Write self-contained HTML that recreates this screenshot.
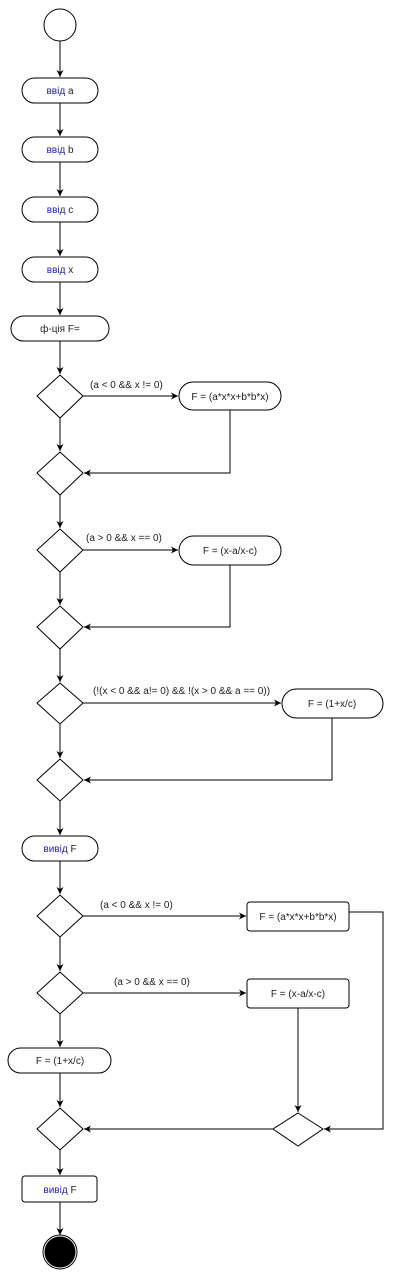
<!DOCTYPE html>
<html><head><meta charset="utf-8"><style>
html,body{margin:0;padding:0;background:#fff;}
svg{display:block;}
text{font-family:"Liberation Sans",sans-serif;font-size:10px;fill:#222;}
.b{fill:#2222aa;}
</style></head><body>
<svg width="401" height="1280" viewBox="0 0 401 1280" xmlns="http://www.w3.org/2000/svg">
<defs><marker id="a" markerWidth="8" markerHeight="8" refX="7" refY="4" orient="auto" markerUnits="userSpaceOnUse"><path d="M0,0.5 L7,4 L0,7.5 L2,4 Z" fill="#000"/></marker></defs>
<g stroke="#000" stroke-width="1" fill="none">
<circle cx="60" cy="25" r="16"/>
<line x1="60" y1="41" x2="60" y2="77" marker-end="url(#a)"/>
<rect x="22" y="78" width="76" height="25" rx="12.5"/>
<line x1="60" y1="103" x2="60" y2="136" marker-end="url(#a)"/>
<rect x="22" y="137" width="76" height="25" rx="12.5"/>
<line x1="60" y1="162" x2="60" y2="196" marker-end="url(#a)"/>
<rect x="22" y="197" width="76" height="25" rx="12.5"/>
<line x1="60" y1="222" x2="60" y2="256" marker-end="url(#a)"/>
<rect x="22" y="257" width="76" height="25" rx="12.5"/>
<line x1="60" y1="282" x2="60" y2="315" marker-end="url(#a)"/>
<rect x="11" y="316" width="98" height="25" rx="12.5"/>
<line x1="60" y1="341" x2="60" y2="374" marker-end="url(#a)"/>
<!-- block 1 -->
<path d="M60,375 L83,396 L60,418 L37,396 Z"/>
<line x1="83" y1="396" x2="178" y2="396" marker-end="url(#a)"/>
<rect x="179" y="382" width="102" height="28" rx="14"/>
<polyline points="230,410 230,473 84,473" marker-end="url(#a)"/>
<line x1="60" y1="418" x2="60" y2="451" marker-end="url(#a)"/>
<path d="M60,452 L83,473 L60,495 L37,473 Z"/>
<line x1="60" y1="495" x2="60" y2="528" marker-end="url(#a)"/>
<!-- block 2 -->
<path d="M60,529 L83,550 L60,572 L37,550 Z"/>
<line x1="83" y1="550" x2="178" y2="550" marker-end="url(#a)"/>
<rect x="179" y="536" width="102" height="29" rx="14.5"/>
<polyline points="230,565 230,627 84,627" marker-end="url(#a)"/>
<line x1="60" y1="572" x2="60" y2="605" marker-end="url(#a)"/>
<path d="M60,606 L83,627 L60,649 L37,627 Z"/>
<line x1="60" y1="649" x2="60" y2="682" marker-end="url(#a)"/>
<!-- block 3 -->
<path d="M60,683 L83,703 L60,724 L37,703 Z"/>
<line x1="83" y1="703" x2="281" y2="703" marker-end="url(#a)"/>
<rect x="282" y="689" width="101" height="29" rx="14.5"/>
<polyline points="332,718 332,780 84,780" marker-end="url(#a)"/>
<line x1="60" y1="724" x2="60" y2="758" marker-end="url(#a)"/>
<path d="M60,759 L83,780 L60,801 L37,780 Z"/>
<line x1="60" y1="801" x2="60" y2="835" marker-end="url(#a)"/>
<rect x="22" y="836" width="76" height="25" rx="12.5"/>
<line x1="60" y1="861" x2="60" y2="894" marker-end="url(#a)"/>
<!-- lower -->
<path d="M60,895 L83,916 L60,937 L37,916 Z"/>
<line x1="83" y1="916" x2="246" y2="916" marker-end="url(#a)"/>
<rect x="247" y="902" width="102" height="29" rx="3"/>
<polyline points="349,912 383,912 383,1129 324,1129" marker-end="url(#a)"/>
<line x1="60" y1="937" x2="60" y2="971" marker-end="url(#a)"/>
<path d="M60,972 L83,993 L60,1014 L37,993 Z"/>
<line x1="83" y1="993" x2="246" y2="993" marker-end="url(#a)"/>
<rect x="247" y="979" width="102" height="29" rx="3"/>
<line x1="298" y1="1008" x2="298" y2="1112" marker-end="url(#a)"/>
<path d="M298,1113 L323,1129 L298,1146 L273,1129 Z"/>
<line x1="273" y1="1129" x2="84" y2="1129" marker-end="url(#a)"/>
<line x1="60" y1="1014" x2="60" y2="1047" marker-end="url(#a)"/>
<rect x="8" y="1048" width="103" height="25" rx="12.5"/>
<line x1="60" y1="1073" x2="60" y2="1107" marker-end="url(#a)"/>
<path d="M60,1108 L83,1129 L60,1150 L37,1129 Z"/>
<line x1="60" y1="1150" x2="60" y2="1175" marker-end="url(#a)"/>
<rect x="22" y="1176" width="75" height="26" rx="3"/>
<line x1="60" y1="1202" x2="60" y2="1235" marker-end="url(#a)"/>
<circle cx="60" cy="1252" r="17" fill="#fff"/>
<circle cx="60" cy="1252" r="15" fill="#000"/>
</g>
<g text-anchor="middle">
<text x="60" y="94"><tspan class="b">ввід</tspan> a</text>
<text x="60" y="153"><tspan class="b">ввід</tspan> b</text>
<text x="60" y="213"><tspan class="b">ввід</tspan> c</text>
<text x="60" y="273"><tspan class="b">ввід</tspan> x</text>
<text x="60" y="332">ф-ція F=</text>
<text x="230" y="400">F = (a*x*x+b*b*x)</text>
<text x="230" y="554">F = (x-a/x-c)</text>
<text x="332" y="707">F = (1+x/c)</text>
<text x="60" y="852"><tspan class="b">вивід</tspan> F</text>
<text x="298" y="920">F = (a*x*x+b*b*x)</text>
<text x="298" y="997">F = (x-a/x-c)</text>
<text x="60" y="1064">F = (1+x/c)</text>
<text x="60" y="1193"><tspan class="b">вивід</tspan> F</text>
</g>
<text x="90" y="388">(a &lt; 0 &amp;&amp; x != 0)</text>
<text x="86" y="541">(a &gt; 0 &amp;&amp; x == 0)</text>
<text x="93" y="694">(!(x &lt; 0 &amp;&amp; a!= 0) &amp;&amp; !(x &gt; 0 &amp;&amp; a == 0))</text>
<text x="100" y="908">(a &lt; 0 &amp;&amp; x != 0)</text>
<text x="114" y="985">(a &gt; 0 &amp;&amp; x == 0)</text>
</svg>
</body></html>
